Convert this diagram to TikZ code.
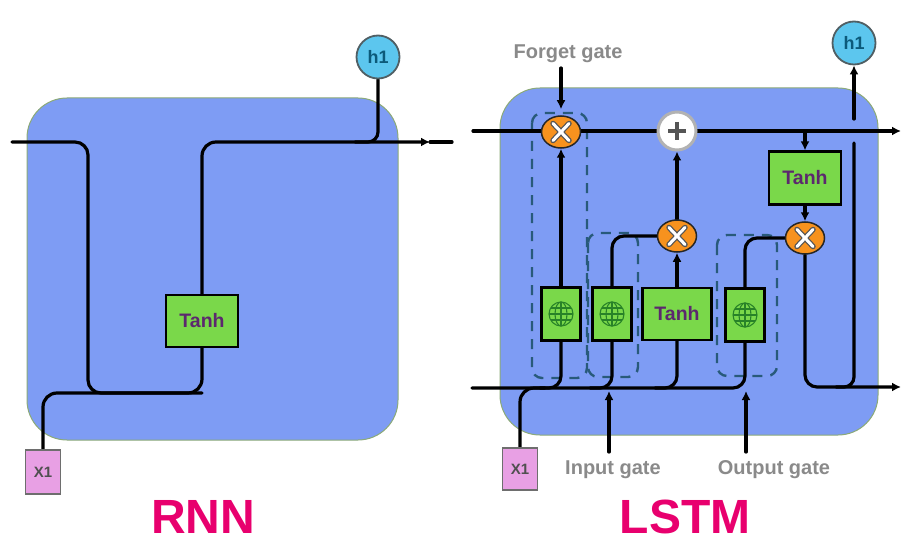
\documentclass[tikz,border=0pt]{standalone}
\usepackage{fontspec}
\setmainfont{Liberation Sans}
\usetikzlibrary{arrows.meta,shapes.geometric}
\pgfdeclarelayer{back}
\pgfdeclarelayer{mid}
\pgfsetlayers{back,mid,main}
\definecolor{cellblue}{RGB}{126,156,244}
\definecolor{celledge}{RGB}{140,170,120}
\definecolor{boxgreen}{RGB}{122,216,74}
\definecolor{tanhpurple}{RGB}{92,40,110}
\definecolor{multorange}{RGB}{247,146,30}
\definecolor{hblue}{RGB}{92,198,238}
\definecolor{hgray}{RGB}{80,95,100}
\definecolor{htext}{RGB}{12,90,122}
\definecolor{xpink}{RGB}{232,160,228}
\definecolor{xborder}{RGB}{110,110,110}
\definecolor{xtext}{RGB}{80,80,80}
\definecolor{labelgray}{RGB}{138,138,138}
\definecolor{titlepink}{RGB}{232,0,110}
\definecolor{dashteal}{RGB}{40,90,122}
\definecolor{globegreen}{RGB}{40,130,40}
\definecolor{plusgray}{RGB}{85,85,85}
\newcommand{\mulmark}[1]{%
  \begin{scope}[shift={(#1.center)}]
    \draw[line width=5.5pt, draw=plusgray, line cap=round] (-8,-8.5) -- (8,8.5) (-8,8.5) -- (8,-8.5);
    \draw[line width=3pt, draw=white, line cap=round] (-8,-8.5) -- (8,8.5) (-8,8.5) -- (8,-8.5);
  \end{scope}}
\newcommand{\globeicon}[1]{%
  \begin{scope}[shift={(#1.center)}, line width=1.1pt, draw=globegreen]
    \draw[globegreen] (0,0) circle (12pt);
    \draw[globegreen] (0,0) ellipse (6pt and 12pt);
    \draw[globegreen] (0,-12) -- (0,12) (-12,0) -- (12,0) (-10.4,-6) -- (10.4,-6) (-10.4,6) -- (10.4,6);
  \end{scope}}
\begin{document}
\begin{tikzpicture}[x=1pt,y=-1pt,
  wire/.style={line width=3.2pt, draw=black, line cap=round},
  arr/.style={wire, -{Latex[length=9pt,width=9pt]}},
  gbox/.style={draw=black, line width=2.2pt, fill=boxgreen, minimum width=39pt, minimum height=53pt, inner sep=0pt},
  tanhbox/.style={gbox, font=\bfseries\fontsize{19.5}{20}\selectfont, text=tanhpurple},
  mult/.style={ellipse, draw=black!85, line width=1.5pt, fill=multorange, minimum width=39pt, minimum height=32pt, inner sep=0pt},
  addc/.style={circle, draw=gray!60, line width=3pt, fill=white, minimum size=38pt, inner sep=0pt},
  hnode/.style={circle, draw=hgray, line width=1.8pt, fill=hblue, minimum size=43pt, inner sep=0pt, font=\bfseries\fontsize{18}{18}\selectfont, text=htext},
  xnode/.style={draw=xborder, line width=1.8pt, fill=xpink, minimum width=35pt, minimum height=44pt, inner sep=0pt, font=\bfseries\fontsize{15}{15}\selectfont, text=xtext},
  gatelabel/.style={font=\bfseries\fontsize{20}{20}\selectfont, text=labelgray, anchor=base, inner sep=1pt},
  titletext/.style={font=\bfseries\fontsize{48}{48}\selectfont, text=titlepink, anchor=base, inner sep=0pt},
  dashbox/.style={draw=dashteal, line width=2.4pt, dash pattern=on 10pt off 8pt, rounded corners=10pt},
  cellbox/.style={fill=cellblue, draw=celledge, line width=1pt, rounded corners=40pt}]
\useasboundingbox (0,0) rectangle (901,540);

% ---------- RNN ----------
\node[hnode] (h1R) at (378,57) {h1};
\node[tanhbox, minimum width=72pt, minimum height=52pt] (tR) at (202,321) {Tanh};
\node[xnode] (x1R) at (43,472) {X1};
\node[titletext] (rnn) at (203,533) {RNN};
\coordinate (inR) at (12,142);
\coordinate (arrR) at (430,142);
\coordinate (endR) at (452,142);
\coordinate (jR) at (202,393);

% ---------- LSTM ----------
\node[mult] (fX) at (561,132) {};
\node[addc] (plus) at (677,131) {};
\node[mult] (iX) at (677,236) {};
\node[mult] (oX) at (805,238) {};
\node[tanhbox, minimum width=72pt, minimum height=53pt] (tO) at (805,178) {Tanh};
\node[gbox] (s1) at (561,314) {};
\node[gbox] (s2) at (612,314) {};
\node[tanhbox, minimum width=69pt, minimum height=52pt] (tC) at (677,314) {Tanh};
\node[gbox] (s3) at (745,315) {};
\node[hnode] (h1L) at (854,43) {h1};
\node[xnode, minimum height=42pt] (x1L) at (520,469) {X1};
\node[gatelabel] (fgl) at (568,59) {Forget gate};
\node[gatelabel] (igl) at (613,474) {Input gate};
\node[gatelabel] (ogl) at (774,474) {Output gate};
\node[titletext] (lstm) at (685,533) {LSTM};
\coordinate (cin) at (473,131);
\coordinate (cout) at (901,131);
\coordinate (bin) at (472,388);
\coordinate (hout) at (901,387);
\coordinate (hj) at (854,387);
\coordinate (gapb) at (854,143);
\coordinate (gapt) at (854,119);
\coordinate (fgtop) at (561,68);
\coordinate (igbot) at (609,452);
\coordinate (ig) at (609,391);
\coordinate (ogbot) at (746,452);
\coordinate (og) at (746,391);

\mulmark{fX}
\mulmark{iX}
\mulmark{oX}
\begin{scope}[shift={(plus.center)}]
  \draw[line width=4pt, draw=plusgray] (-9,0) -- (9,0) (0,-9) -- (0,9);
\end{scope}
\globeicon{s1}
\globeicon{s2}
\globeicon{s3}

\begin{pgfonlayer}{back}
  \fill[white] (0,0) rectangle (901,540);
  \fill[cellbox] (27,98) rectangle (398,440);
  \fill[cellbox] (500,88) rectangle (878,435);
  \draw[dashbox] (532,113) rectangle (587,378);
  \draw[dashbox] (588,233) rectangle (638,377);
  \draw[dashbox] (717,235) rectangle (777,376);
\end{pgfonlayer}

\begin{pgfonlayer}{mid}
  % RNN wires
  \draw[wire, rounded corners=13pt] (inR) -- (88,142) -- (88,393) -- (jR);
  \draw[wire, rounded corners=14pt] (x1R.north) -- (x1R.north |- jR) -- (jR) -- (tR.south);
  \draw[arr, rounded corners=14pt] (tR.north) -- (tR.north |- arrR) -- (arrR);
  \draw[wire] (arrR) -- (endR);
  \draw[wire, rounded corners=10pt] (h1R.south) -- (h1R.south |- arrR) -- (355,142);
  % LSTM wires
  \draw[arr] (cin) -- (cout);
  \draw[arr, shorten >=6pt] (fgtop) -- (fX.north);
  \draw[arr] (s1.north) -- (fX.south);
  \draw[arr] (tC.north) -- (iX.south);
  \draw[arr] (iX.north) -- (plus.south);
  \draw[wire, rounded corners=12pt] (s2.north) |- (iX.west);
  \draw[wire, rounded corners=12pt] (s3.north) |- (oX.west);
  \draw[arr] (tO.north |- cin) -- (tO.north);
  \draw[arr] (tO.south) -- (oX.north);
  \draw[arr, rounded corners=12pt] (oX.south) |- (hout);
  \draw[wire, rounded corners=10pt] (836,387) -- (hj) -- (gapb);
  \draw[arr] (gapt) -- (h1L.south);
  \draw[wire, rounded corners=12pt] (bin) -| (s3.south);
  \draw[wire, rounded corners=12pt] (s1.south) |- (540,388);
  \draw[wire, rounded corners=12pt] (s2.south) |- (590,388);
  \draw[wire, rounded corners=12pt] (tC.south) |- (655,388);
  \draw[wire, rounded corners=14pt] (x1L.north) |- (545,388);
  \draw[arr] (igbot) -- (ig);
  \draw[arr] (ogbot) -- (og);
\end{pgfonlayer}
\end{tikzpicture}
\end{document}
